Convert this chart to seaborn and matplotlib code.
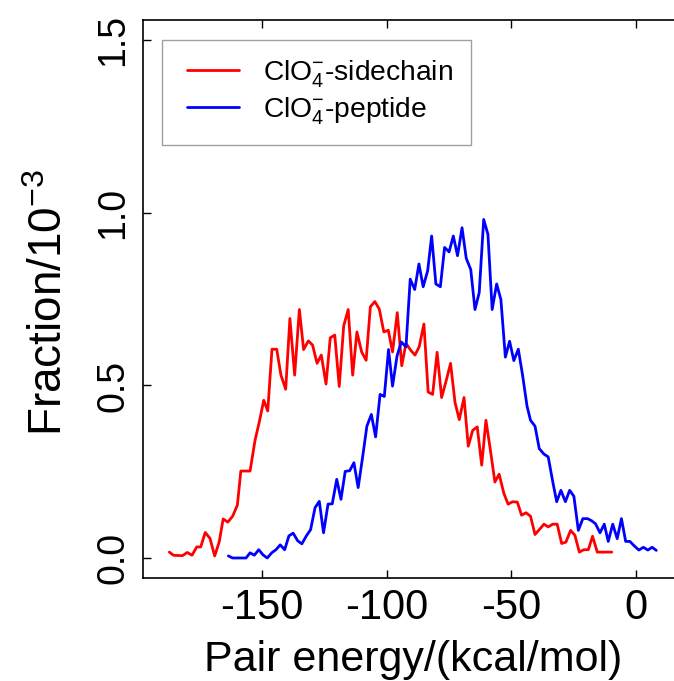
import matplotlib
matplotlib.use("Agg")
import matplotlib.pyplot as plt
from matplotlib.lines import Line2D
from matplotlib.legend_handler import HandlerLine2D
import seaborn as sns
import pandas as pd

# ---- data ----
side_x = [-187.2, -185.6, -183.6, -181.9, -180.0, -178.1, -176.2, -174.6, -172.8, -170.9,
          -169.0, -167.2, -165.6, -163.7, -161.8, -159.9, -158.5, -156.6, -154.8, -152.8,
          -151.1, -149.3, -147.7, -146.0, -144.1, -142.4, -140.5, -138.8, -136.9, -135.0,
          -133.3, -131.4, -129.7, -127.9, -126.2, -124.3, -122.6, -120.8, -119.0, -117.2,
          -115.4, -113.6, -111.9, -110.0, -108.2, -106.5, -104.7, -102.9, -101.1, -99.3,
          -97.6, -95.7, -93.9, -92.2, -90.3, -88.6, -86.9, -85.0, -83.3, -81.5,
          -79.7, -77.9, -76.2, -74.3, -72.5, -70.8, -68.9, -67.2, -65.4, -63.6,
          -61.8, -60.1, -58.2, -56.5, -54.8, -52.9, -51.2, -49.4, -47.5, -45.8,
          -44.0, -42.2, -40.4, -38.7, -36.8, -35.1, -33.3, -31.5, -29.7, -28.0,
          -26.1, -24.4, -22.6, -20.8, -19.0, -17.3, -15.4, -13.6, -11.9, -9.6]
side_y = [0.017, 0.008, 0.007, 0.007, 0.016, 0.008, 0.032, 0.032, 0.074, 0.057,
          0.006, 0.046, 0.113, 0.104, 0.121, 0.153, 0.252, 0.252, 0.252, 0.341,
          0.394, 0.457, 0.426, 0.605, 0.605, 0.530, 0.489, 0.694, 0.530, 0.720,
          0.604, 0.629, 0.617, 0.564, 0.588, 0.504, 0.638, 0.646, 0.497, 0.673,
          0.720, 0.530, 0.655, 0.597, 0.573, 0.728, 0.743, 0.721, 0.655, 0.660,
          0.597, 0.711, 0.557, 0.622, 0.602, 0.588, 0.612, 0.678, 0.481, 0.474,
          0.596, 0.465, 0.510, 0.564, 0.450, 0.401, 0.465, 0.324, 0.370, 0.380,
          0.269, 0.399, 0.307, 0.220, 0.243, 0.187, 0.156, 0.163, 0.162, 0.124,
          0.131, 0.121, 0.068, 0.082, 0.098, 0.090, 0.098, 0.098, 0.042, 0.046,
          0.080, 0.066, 0.017, 0.024, 0.024, 0.063, 0.017, 0.017, 0.017, 0.017]

pep_x = [-163.5, -161.8, -159.9, -158.2, -156.4, -154.8, -153.1, -151.3, -149.6, -147.9,
         -146.1, -144.4, -142.7, -140.9, -139.2, -137.5, -135.7, -134.0, -132.2, -130.5,
         -128.7, -127.0, -125.3, -123.5, -121.8, -120.0, -118.3, -116.6, -114.8, -113.1,
         -111.4, -109.6, -107.9, -106.1, -104.4, -102.6, -100.9, -99.2, -97.6, -95.8,
         -94.1, -92.2, -90.5, -88.7, -87.0, -85.3, -83.5, -81.9, -80.2, -78.4,
         -76.7, -74.9, -73.2, -71.5, -69.7, -68.0, -66.2, -64.5, -62.8, -61.0,
         -59.3, -57.6, -55.8, -54.1, -52.3, -50.6, -48.9, -47.1, -45.4, -43.6,
         -42.2, -40.4, -38.7, -36.8, -35.1, -33.3, -31.7, -30.0, -28.2, -26.5,
         -24.8, -23.0, -21.2, -19.3, -17.7, -16.1, -14.3, -12.6, -11.0, -9.2,
         -7.4, -5.7, -4.0, -2.3, -0.4, 1.3, 3.1, 4.9, 6.6, 8.3]
pep_y = [0.006, 0.000, 0.000, 0.000, 0.000, 0.015, 0.008, 0.024, 0.009, 0.000,
         0.015, 0.024, 0.038, 0.024, 0.064, 0.072, 0.050, 0.041, 0.064, 0.082,
         0.146, 0.164, 0.073, 0.156, 0.157, 0.228, 0.170, 0.251, 0.253, 0.276,
         0.204, 0.293, 0.382, 0.416, 0.351, 0.474, 0.468, 0.604, 0.498, 0.585,
         0.626, 0.612, 0.808, 0.778, 0.852, 0.786, 0.832, 0.933, 0.794, 0.786,
         0.900, 0.887, 0.933, 0.876, 0.957, 0.868, 0.836, 0.720, 0.769, 0.981,
         0.938, 0.720, 0.794, 0.749, 0.582, 0.628, 0.572, 0.605, 0.530, 0.440,
         0.399, 0.382, 0.317, 0.301, 0.293, 0.222, 0.163, 0.196, 0.163, 0.196,
         0.179, 0.080, 0.114, 0.114, 0.108, 0.099, 0.073, 0.098, 0.048, 0.098,
         0.056, 0.114, 0.048, 0.048, 0.034, 0.023, 0.031, 0.023, 0.031, 0.022]

series_labels = ["ClO$_4^{-}$-sidechain", "ClO$_4^{-}$-peptide"]
series_colors = ["#ff0000", "#0000ff"]
x_ticks = [-150, -100, -50, 0]
x_tick_labels = ["-150", "-100", "-50", "0"]
y_ticks = [0.0, 0.5, 1.0, 1.5]
y_tick_labels = ["0.0", "0.5", "1.0", "1.5"]
x_label = "Pair energy/(kcal/mol)"
y_label = "Fraction/10$^{-3}$"

# ---- style ----
sns.set_style("ticks")
plt.rcParams["font.family"] = ["Liberation Sans", "DejaVu Sans"]
plt.rcParams["mathtext.fontset"] = "custom"
plt.rcParams["mathtext.rm"] = "Liberation Sans"
plt.rcParams["mathtext.it"] = "Liberation Sans:italic"
plt.rcParams["mathtext.bf"] = "Liberation Sans:bold"
for key in ["text.color", "axes.labelcolor", "xtick.color", "ytick.color", "axes.edgecolor"]:
    plt.rcParams[key] = "black"

df_side = pd.DataFrame({"energy": side_x, "fraction": side_y})
df_pep = pd.DataFrame({"energy": pep_x, "fraction": pep_y})

fig = plt.figure(figsize=(6.74, 6.81), dpi=100)
ax = fig.add_axes([142.7 / 674, (681 - 578.0) / 681, (674 - 142.7) / 674, (578.0 - 20) / 681])

sns.lineplot(data=df_side, x="energy", y="fraction", color=series_colors[0],
             label=series_labels[0], linewidth=2.0, ax=ax, sort=False)
sns.lineplot(data=df_pep, x="energy", y="fraction", color=series_colors[1],
             label=series_labels[1], linewidth=2.0, ax=ax, sort=False)

ax.set_xlim(-197.9, 15.4)
ax.set_ylim(-0.058, 1.559)

ax.set_xticks(x_ticks)
ax.set_xticklabels(x_tick_labels)
ax.set_yticks(y_ticks)
ax.set_yticklabels(y_tick_labels, rotation=90, va="center")

ax.tick_params(axis="both", direction="in", length=5.5, width=1.0, colors="black",
               top=True, right=False)
ax.tick_params(axis="x", labelsize=30, pad=7)
ax.tick_params(axis="y", labelsize=27, pad=8)

for s in ["left", "bottom", "top"]:
    ax.spines[s].set_visible(True)
    ax.spines[s].set_color("black")
    ax.spines[s].set_linewidth(1.2)
ax.spines["right"].set_visible(False)

ax.set_xlabel(x_label, fontsize=31, labelpad=9)
ax.set_ylabel(y_label, fontsize=33, labelpad=17)
ax.xaxis.label.set_x(0.5097)
ax.yaxis.label.set_y(0.4937)

leg = ax.legend(loc="upper left", bbox_to_anchor=(0.0358, 0.964), borderaxespad=0,
                fontsize=20.3, frameon=True, fancybox=False, edgecolor="#888888",
                handlelength=2.085, handletextpad=0.87, borderpad=0.64, labelspacing=0.2,
                handler_map={Line2D: HandlerLine2D(xpad=0.26)})
leg.get_frame().set_linewidth(1.0)

fig.savefig("out.png", dpi=100)
